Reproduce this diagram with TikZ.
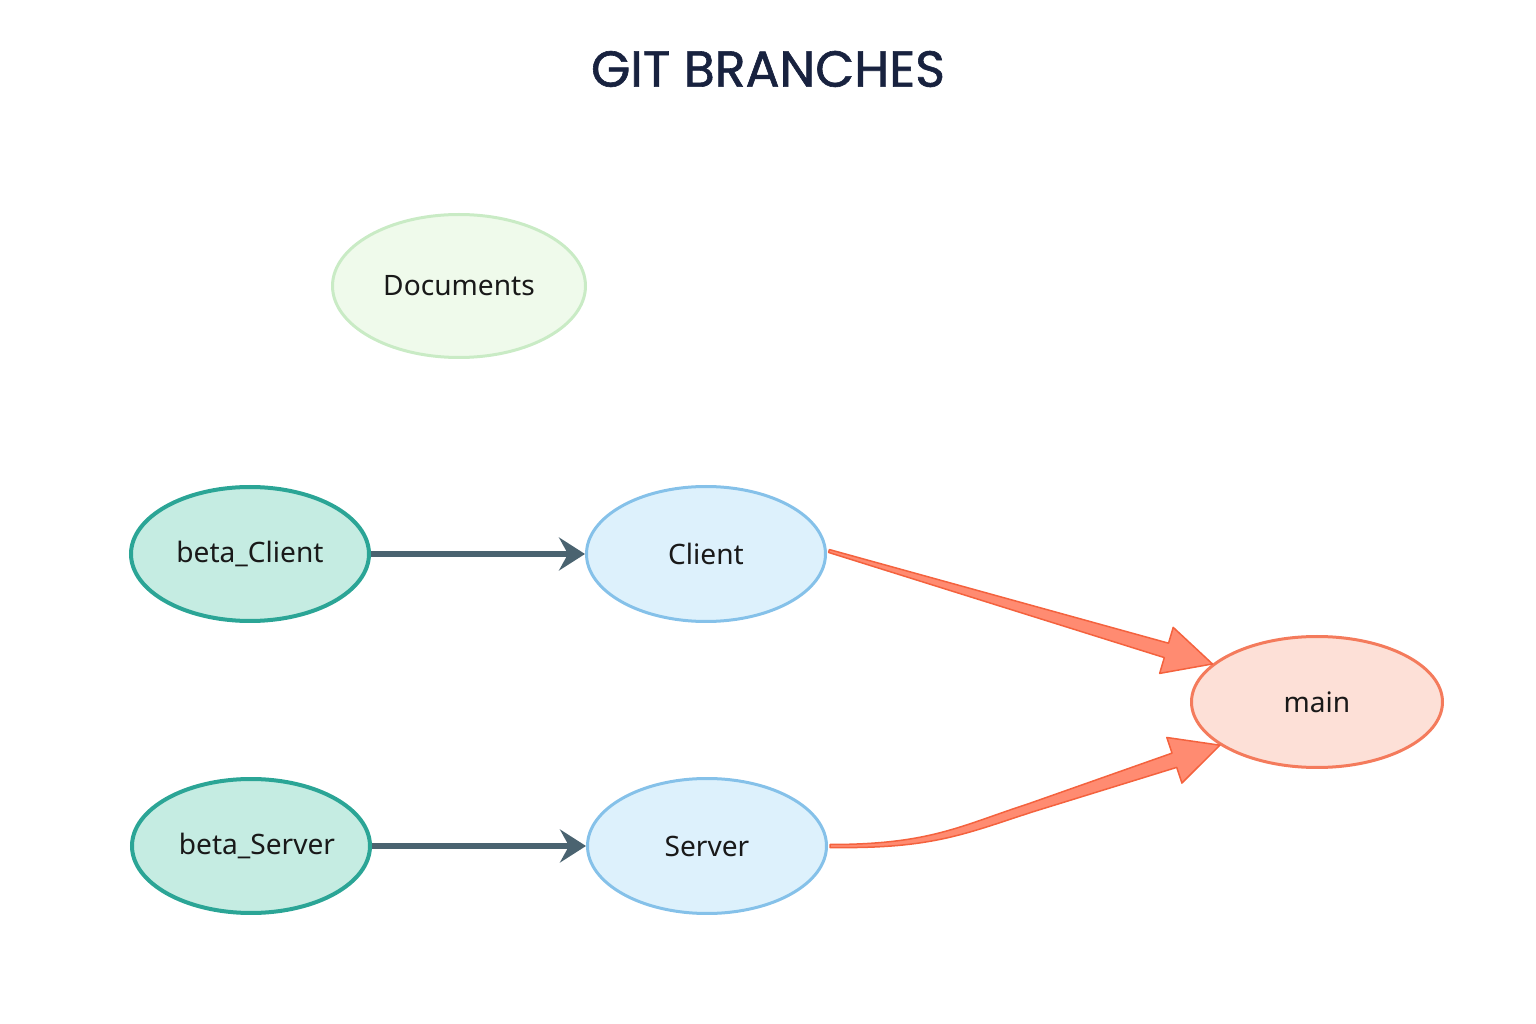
\documentclass[tikz,border=0pt]{standalone}
\usepackage{fontspec}
\setmainfont{Noto Sans}
\newfontfamily\titlefont[FakeBold=1.2]{Poppins}
\usetikzlibrary{shapes.geometric,arrows.meta,calc}
\definecolor{docfill}{HTML}{EFFAEB}
\definecolor{docline}{HTML}{C9EBC5}
\definecolor{betafill}{HTML}{C5ECE2}
\definecolor{betaline}{HTML}{2BA596}
\definecolor{brfill}{HTML}{DDF1FC}
\definecolor{brline}{HTML}{85C1E9}
\definecolor{mainfill}{HTML}{FDE0D7}
\definecolor{mainline}{HTML}{F47B5C}
\definecolor{darkarrow}{HTML}{4A6370}
\definecolor{orangefill}{HTML}{FF8B71}
\definecolor{orangeline}{HTML}{F4623E}
\definecolor{titlecol}{HTML}{18223F}
\tikzset{
  lbl/.style={ellipse, inner sep=0pt, font=\fontsize{8pt}{10pt}\selectfont, text=black!90},
  docnode/.style={lbl, draw=docline, fill=docfill, line width=0.3mm, minimum width=25.3mm, minimum height=14.3mm},
  betanode/.style={lbl, draw=betaline, fill=betafill, line width=0.4mm, minimum width=23.8mm, minimum height=13.4mm},
  brnode/.style={lbl, draw=brline, fill=brfill, line width=0.3mm, minimum width=23.9mm, minimum height=13.5mm},
  mainnode/.style={lbl, draw=mainline, fill=mainfill, line width=0.3mm, minimum width=25.1mm, minimum height=13.1mm},
  darrow/.style={draw=darkarrow, line width=0.55mm, -{Stealth[length=2.6mm,width=3.3mm,inset=0.9mm]}},
  oarrow/.style={fill=orangefill, draw=orangeline, line width=0.15mm, line join=round}
}
\begin{document}
\begin{tikzpicture}[x=0.1mm,y=-0.1mm]
\useasboundingbox (0,0) rectangle (1536,1024);
\node[text=titlecol, font=\titlefont\fontsize{14.4pt}{18pt}\selectfont] (title) at (768,69) {GIT\ BRANCHES};
\node[docnode] (doc) at (459,286) {Documents};
\node[betanode] (bc) at (250,554) {beta\_Client};
\node[betanode] (bs) at (251,846) {\hspace*{1.2mm}beta\_Server};
\node[brnode] (cl) at (706,554) {Client};
\node[brnode] (sv) at (707,846) {Server};
\node[mainnode] (main) at (1317,702) {main};
% dark arrows
\draw[darrow] (bc.east) -- (cl.west);
\draw[darrow] (bs.east) -- (sv.west);
% Client -> main (tapered)
\coordinate (s1) at ($(cl.east)+(2,-3)$);
\coordinate (t1) at (main.160);
\coordinate (h1) at ($(t1)!4.8mm!(s1)$);
\filldraw[oarrow] ($(s1)!0.15mm!90:(t1)$) -- ($(h1)!0.75mm!90:(t1)$) -- ($(h1)!2.4mm!90:(t1)$)
  -- (t1) -- ($(h1)!2.4mm!-90:(t1)$) -- ($(h1)!0.75mm!-90:(t1)$) -- ($(s1)!0.15mm!-90:(t1)$) -- cycle;
% Server -> main (curved, tapered)
\coordinate (s2) at ($(sv.east)+(2,0)$);
\coordinate (t2) at (main.204);
\coordinate (m2) at (1030,808);
\coordinate (h2) at ($(t2)!4.8mm!(m2)$);
\filldraw[oarrow] ($(s2)+(0,-1.5)$) .. controls ($(s2)+(100,-1.5)$) and ($(m2)+(-70,18)$) .. ($(m2)!0.45mm!90:(t2)$)
  -- ($(h2)!0.75mm!90:(t2)$) -- ($(h2)!2.4mm!90:(t2)$) -- (t2)
  -- ($(h2)!2.4mm!-90:(t2)$) -- ($(h2)!0.75mm!-90:(t2)$) -- ($(m2)!0.45mm!-90:(t2)$)
  .. controls ($(m2)+(-68,27)$) and ($(s2)+(100,3)$) .. ($(s2)+(0,1.5)$) -- cycle;
\end{tikzpicture}
\end{document}
